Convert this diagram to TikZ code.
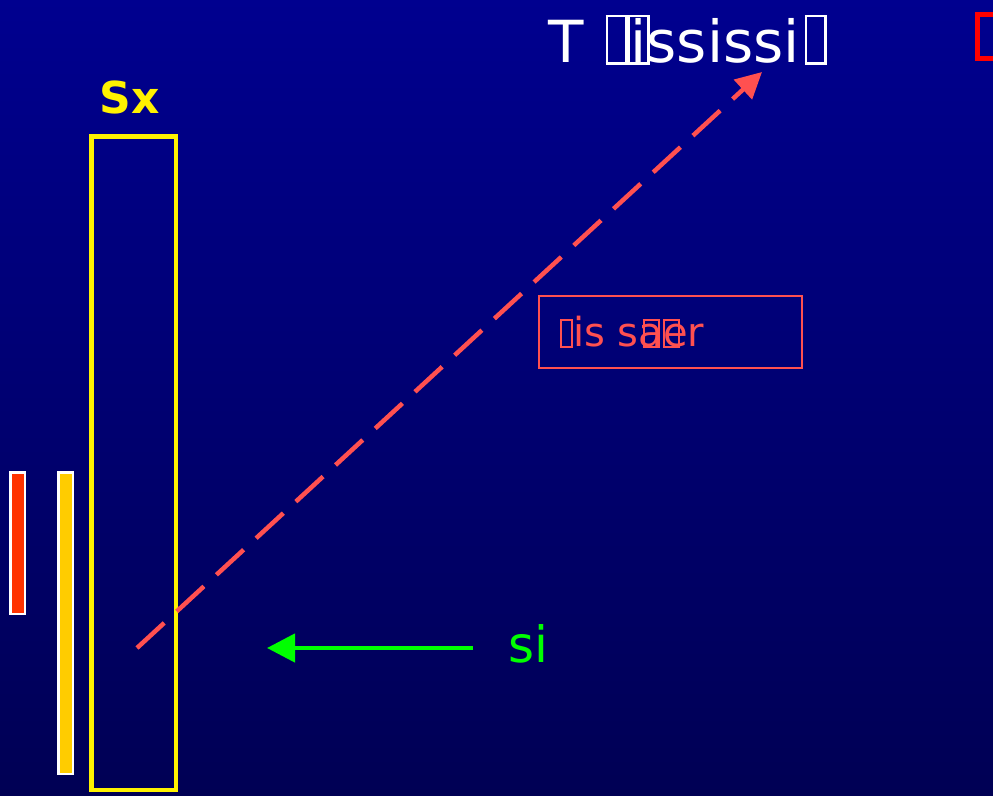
\documentclass[tikz,border=0pt]{standalone}
\usepackage{fontspec}
\setmainfont{DejaVu Sans}
\usepackage{xcolor}
\usetikzlibrary{arrows.meta,positioning}
\definecolor{slideTop}{RGB}{0,0,143}
\definecolor{slideBottom}{RGB}{0,0,84}
\definecolor{laserRed}{RGB}{255,80,80}
\definecolor{barRed}{RGB}{255,51,0}
\definecolor{barGold}{RGB}{255,204,0}
\definecolor{beamGreen}{RGB}{0,255,0}
% empty box drawn where a glyph is missing
\newcommand\nogl[3]{{\fboxsep=0pt\fboxrule=#3\fbox{\rule{0pt}{#2}\hspace{#1}}}}
\tikzset{
  sbar/.style={draw=white,line width=2.5pt,inner sep=0pt,minimum width=14.5pt},
  sframe/.style={draw=yellow,line width=4.5pt,inner sep=0pt},
  slabel/.style={inner sep=0pt,anchor=base west},
  sflow/.style={-{Triangle[length=28pt,width=28pt]},line width=4.5pt},
}
\begin{document}
\begin{tikzpicture}[x=1pt,y=-1pt]
\useasboundingbox (0,0) rectangle (993,795);
\shade[top color=slideTop,bottom color=slideBottom] (0,0) rectangle (993,795);
\node[sbar,fill=barRed,minimum height=141.5pt] (redbar) at (17.5,543) {};
\node[sbar,fill=barGold,minimum height=301.5pt] (goldbar) at (65.5,623) {};
\node[sframe,minimum width=84.5pt,minimum height=653.5pt] (sx) at (133.5,463) {};
\node[text=yellow,font=\fontsize{44}{50}\selectfont\bfseries] (sxlbl) at (130,97) {Sx};
\node[draw=laserRed,line width=2pt,inner sep=0pt,minimum width=263pt,minimum height=72pt] (note) at (670.5,332) {};
\node[slabel,text=laserRed,font=\fontsize{40}{44}\selectfont] (notetxt) at (560,346)
  {\nogl{9pt}{25pt}{2pt}is s\rlap{\kern4pt\nogl{13pt}{25pt}{2pt}}a\rlap{\nogl{13pt}{25pt}{2pt}}er};
\node[slabel,text=white,font=\fontsize{58}{62}\selectfont] (title) at (548,62)
  {T\hspace{22pt}\rlap{\nogl{17pt}{45pt}{2.5pt}\nogl{17pt}{45pt}{2.5pt}}\hspace{25pt}ississi\hspace{5pt}\nogl{17pt}{45pt}{2.5pt}};
\node[draw=red,line width=5pt,inner sep=0pt,minimum width=30pt,minimum height=44pt] (glyph) at (992,36) {};
\coordinate (beamstart) at (137,648);
\coordinate (beamend) at (762,72);
\draw[sflow,laserRed,dash pattern=on 37pt off 17pt,-{Triangle[length=26pt,width=26pt]}] (beamstart) -- (beamend);
\node[slabel,text=beamGreen,font=\fontsize{50}{55}\selectfont] (si) at (508,662) {si};
\coordinate (sitail) at (473,648);
\coordinate (sihit) at (267,648);
\draw[sflow,beamGreen] (sitail) -- (sihit);
\end{tikzpicture}
\end{document}
